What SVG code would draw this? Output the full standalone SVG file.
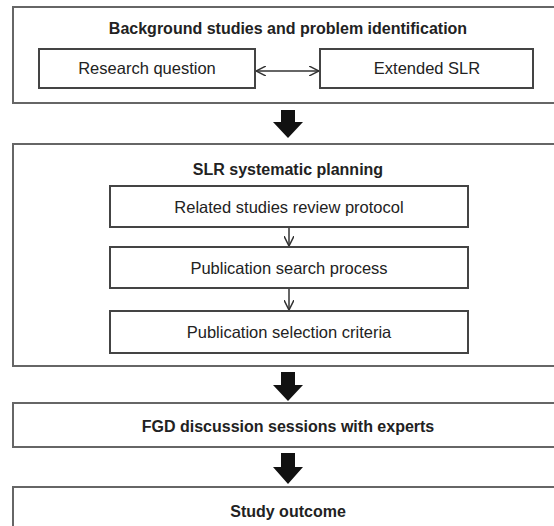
<svg xmlns="http://www.w3.org/2000/svg" width="554" height="526" viewBox="0 0 554 526">
<style>
.outer{fill:#fff;stroke:#666;stroke-width:2}
.inner{fill:#fff;stroke:#444;stroke-width:2}
.t{font-family:"Liberation Sans",Arial,sans-serif;font-size:16.5px;fill:#222;text-anchor:middle}
.b{font-weight:bold;font-size:16px}
.thin{stroke:#333;stroke-width:1.5;fill:none}
.big{fill:#111}
</style>
<defs>
<marker id="open" viewBox="0 0 10 10" refX="10" refY="5" markerWidth="10" markerHeight="10" markerUnits="userSpaceOnUse" orient="auto-start-reverse">
<path d="M0,0 L10,5 L0,10" fill="none" stroke="#333" stroke-width="1.5"/>
</marker>
</defs>
<rect width="554" height="526" fill="#fff"/>
<g id="stage1">
<rect class="outer" x="13" y="7" width="560" height="96"/>
<text class="t b" x="288" y="34">Background studies and problem identification</text>
</g>
<g id="research-question">
<rect class="inner" x="39" y="49" width="216" height="39"/>
<text class="t" x="147" y="74">Research question</text>
</g>
<g id="extended-slr">
<rect class="inner" x="320" y="49" width="213" height="39"/>
<text class="t" x="427" y="74">Extended SLR</text>
</g>
<g id="stage2">
<rect class="outer" x="13" y="144" width="560" height="222"/>
<text class="t b" x="288" y="175">SLR systematic planning</text>
</g>
<g id="review-protocol">
<rect class="inner" x="110" y="186" width="358" height="41"/>
<text class="t" x="289" y="213">Related studies review protocol</text>
</g>
<g id="search-process">
<rect class="inner" x="110" y="247" width="358" height="41"/>
<text class="t" x="289" y="274">Publication search process</text>
</g>
<g id="selection-criteria">
<rect class="inner" x="110" y="311" width="358" height="42"/>
<text class="t" x="289" y="338">Publication selection criteria</text>
</g>
<g id="fgd">
<rect class="outer" x="13" y="403" width="560" height="44"/>
<text class="t b" x="288" y="432">FGD discussion sessions with experts</text>
</g>
<g id="outcome">
<rect class="outer" x="13" y="487" width="560" height="60"/>
<text class="t b" x="288" y="517">Study outcome</text>
</g>
<g id="connectors">
<line class="thin" x1="256" y1="71" x2="319" y2="71" marker-start="url(#open)" marker-end="url(#open)"/>
<line class="thin" x1="289" y1="228" x2="289" y2="246" marker-end="url(#open)"/>
<line class="thin" x1="289" y1="289" x2="289" y2="310" marker-end="url(#open)"/>
<path class="big" d="M281,110 H295 V122 H303 L288,138 L273,122 H281 Z"/>
<path class="big" d="M281,372 H295 V385 H303 L288,401 L273,385 H281 Z"/>
<path class="big" d="M281,453 H295 V467 H303 L288,484 L273,467 H281 Z"/>
</g>
</svg>
